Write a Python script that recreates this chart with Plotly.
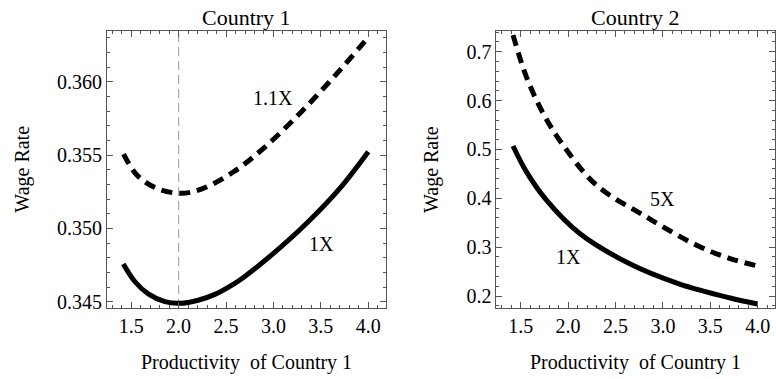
import plotly.graph_objects as go
from plotly.subplots import make_subplots

# Country 1 panel
c1_x_1x = [1.417, 1.54, 1.68, 1.856, 2.014, 2.206, 2.382, 2.558, 2.68, 3.0, 3.35, 3.70, 4.0]
c1_y_1x = [0.34757, 0.34636, 0.34553, 0.34500, 0.34489, 0.34510, 0.34550, 0.34612, 0.34664,
           0.34830, 0.35035, 0.35273, 0.35523]
c1_x_11x = [1.42, 1.56, 1.77, 2.03, 2.26, 2.58, 2.895, 3.28, 3.67, 4.0]
c1_y_11x = [0.35507, 0.35364, 0.35273, 0.35239, 0.35273, 0.35386, 0.35546, 0.35785, 0.36057, 0.36303]

# Country 2 panel
c2_x_5x = [1.42, 1.56, 1.737, 1.947, 2.298, 2.825, 3.35, 3.70, 4.0]
c2_y_5x = [0.734, 0.649, 0.574, 0.509, 0.4272, 0.362, 0.3045, 0.2772, 0.2615]
c2_x_1x = [1.42, 1.56, 1.77, 2.12, 2.65, 3.17, 3.70, 4.0]
c2_y_1x = [0.507, 0.4545, 0.3966, 0.3284, 0.266, 0.225, 0.1965, 0.1837]

ref_x = 2.0
titles = ["Country 1", "Country 2"]
x_title = "Productivity\u00a0 of Country 1"
y_title = "Wage Rate"

FONT = "Liberation Serif"
fig = make_subplots(rows=1, cols=2, horizontal_spacing=0.166)

dash = "11px,7px"
fig.add_trace(go.Scatter(x=c1_x_11x, y=c1_y_11x, mode="lines", line=dict(color="black", width=5, dash=dash, shape="spline")), 1, 1)
fig.add_trace(go.Scatter(x=c1_x_1x, y=c1_y_1x, mode="lines", line=dict(color="black", width=5, shape="spline")), 1, 1)
fig.add_trace(go.Scatter(x=c2_x_5x, y=c2_y_5x, mode="lines", line=dict(color="black", width=5, dash=dash, shape="spline")), 1, 2)
fig.add_trace(go.Scatter(x=c2_x_1x, y=c2_y_1x, mode="lines", line=dict(color="black", width=5, shape="spline")), 1, 2)

fig.add_shape(type="line", xref="x", yref="paper", x0=ref_x, x1=ref_x, y0=0, y1=1,
              line=dict(color="#aaaaaa", width=1.2, dash="9px,5px"), layer="below")

axis_common = dict(showline=True, linecolor="#555555", linewidth=1, mirror="allticks",
                   ticks="inside", ticklen=6, tickcolor="#555555", tickwidth=1,
                   showgrid=False, zeroline=False,
                   tickfont=dict(family=FONT, size=20, color="black"))
xr = [1.245, 4.182]
for c in (1, 2):
    fig.update_xaxes(range=xr, tick0=1.5, dtick=0.5, tickformat=".1f",
                     minor=dict(dtick=0.1, ticklen=3, tickcolor="#555555", ticks="inside"),
                     row=1, col=c, **axis_common)
fig.update_yaxes(range=[0.34457, 0.36346], tick0=0.345, dtick=0.005, tickformat=".3f",
                 minor=dict(dtick=0.001, ticklen=3, tickcolor="#555555", ticks="inside"),
                 row=1, col=1, **axis_common)
fig.update_yaxes(range=[0.1755, 0.7424], tick0=0.2, dtick=0.1, tickformat=".1f",
                 minor=dict(dtick=0.02, ticklen=3, tickcolor="#555555", ticks="inside"),
                 row=1, col=2, **axis_common)

fig.update_layout(
    width=776, height=379, margin=dict(l=107, r=1, t=31, b=71),
    paper_bgcolor="white", plot_bgcolor="white", showlegend=False,
    font=dict(family=FONT, size=20, color="black"),
)
fig.update_xaxes(domain=[0, 0.417], row=1, col=1)
fig.update_xaxes(domain=[0.583, 1.0], row=1, col=2)

ann = []
lab = dict(size=20)
ann.append(dict(x=3.0, y=0.35887, xref="x", yref="y", text="1.1X", showarrow=False, font=lab))
ann.append(dict(x=3.508, y=0.34893, xref="x", yref="y", text="1X", showarrow=False, font=lab))
ann.append(dict(x=3.0, y=0.398, xref="x2", yref="y2", text="5X", showarrow=False, font=lab))
ann.append(dict(x=2.0, y=0.2793, xref="x2", yref="y2", text="1X", showarrow=False, font=lab))
for dom, t in zip([(0, 0.417), (0.583, 1.0)], titles):
    ann.append(dict(x=(dom[0] + dom[1]) / 2, y=1, xref="paper", yref="paper", yanchor="middle",
                    xanchor="center", yshift=14, text=t, showarrow=False, font=dict(size=22)))
    ann.append(dict(x=(dom[0] + dom[1]) / 2, y=0, xref="paper", yref="paper", yanchor="middle",
                    xanchor="center", yshift=-54, text=x_title, showarrow=False, font=dict(size=20)))
for px in (22, 432):
    ann.append(dict(x=(px - 107) / 669, y=0.5, xref="paper", yref="paper", text=y_title,
                    showarrow=False, xanchor="center", yanchor="middle",
                    textangle=-90, font=dict(size=20)))
fig.update_layout(annotations=ann)

fig.write_html("out.html")
